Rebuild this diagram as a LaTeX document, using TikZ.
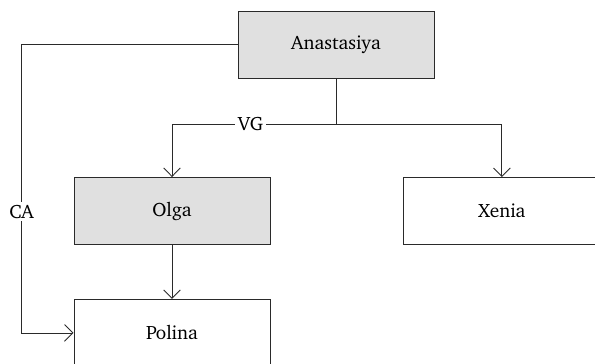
\documentclass[tikz,border=0pt]{standalone}
\usepackage[T1]{fontenc}
\usepackage{charter}
\usepackage{tikz}
\usetikzlibrary{arrows.meta,positioning,calc}
\definecolor{boxgrey}{HTML}{E0E0E0}
\definecolor{edgegrey}{HTML}{2A2A2A}
\tikzset{
  personbox/.style={
    rectangle, draw=edgegrey, fill=#1, line width=0.55pt,
    minimum width=3.92cm, minimum height=1.34cm,
    font=\fontsize{11}{13}\selectfont, align=center, inner sep=4pt
  },
  personbox/.default=white,
  link/.style={
    -{Straight Barb[length=4.8pt,width=9.5pt]}, line width=0.5pt, color=edgegrey
  },
  linklabel/.style={fill=white, inner sep=1.5pt, font=\fontsize{11}{13}\selectfont, text=black},
}
\begin{document}
\begin{tikzpicture}[x=0.02cm, y=-0.02cm]
\useasboundingbox (0,0) rectangle (595,364);
\node[personbox=boxgrey] (anast) at (336,44.5) {Anastasiya};
\node[personbox=boxgrey] (olga) at (172,211) {Olga};
\node[personbox, right=2.66cm of olga] (xenia) {Xenia};
\node[personbox, below=1.08cm of olga] (polina) {Polina};
\draw[line width=0.5pt, color=edgegrey] (anast.south) -- ++(0,46) coordinate (fork);
\draw[link] (fork) -| node[linklabel, pos=0.26] {VG} (olga.north);
\draw[link] (fork) -| (xenia.north);
\draw[link] (olga) -- (polina);
\draw[link] (anast.west) -- ++(-216,0) coordinate (caturn)
  |- node[linklabel, pos=0.29] {CA} (polina.west);
\end{tikzpicture}
\end{document}
